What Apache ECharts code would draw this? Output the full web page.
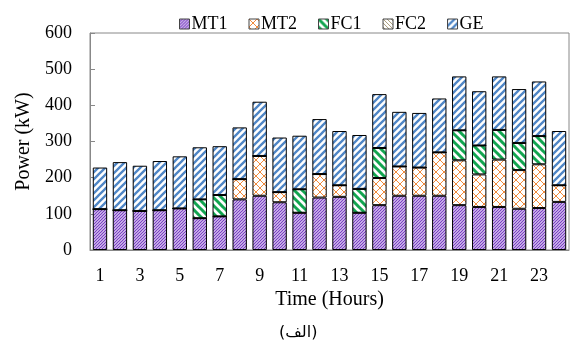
<!DOCTYPE html>
<html>
<head>
<meta charset="utf-8">
<script src="https://cdn.jsdelivr.net/npm/echarts@6/dist/echarts.min.js"></script>
<style>
  html, body { margin: 0; padding: 0; background: #fff; }
  #chart { width: 570px; height: 342px; }
</style>
</head>
<body>
<div id="chart"></div>
<script>
// hours 1..24
var hours = [];
for (var h = 1; h <= 24; h++) hours.push(String(h));

var seriesNames = ['MT1', 'MT2', 'FC1', 'FC2', 'GE'];
var mt1 = [113, 110, 108, 110, 115, 88, 93, 140, 150, 132, 103, 145, 147, 103, 124, 150, 150, 150, 124, 119, 119, 114, 116, 133];
var mt2 = [0, 0, 0, 0, 0, 0, 0, 56, 110, 28, 0, 65, 32, 0, 75, 81, 78, 120, 124, 90, 131, 107, 121, 46];
var fc1 = [0, 0, 0, 0, 0, 52, 59, 0, 0, 0, 65, 0, 0, 66, 83, 0, 0, 0, 83, 80, 82, 75, 78, 0];
var fc2 = [0, 0, 0, 0, 0, 0, 0, 0, 0, 0, 0, 0, 0, 0, 0, 0, 0, 0, 0, 0, 0, 0, 0, 0];
var ge = [115, 133, 125, 136, 144, 144, 135, 143, 150, 151, 148, 152, 150, 149, 149, 151, 151, 149, 149, 150, 148, 149, 151, 150];
var yTicks = [0, 100, 200, 300, 400, 500, 600];

// hatch tiles
function stripes(color, size, width, dir) {
  var c = document.createElement('canvas');
  c.width = size; c.height = size;
  var g = c.getContext('2d');
  g.fillStyle = '#fff';
  g.fillRect(0, 0, size, size);
  g.strokeStyle = color;
  g.lineWidth = width;
  g.beginPath();
  var offs = [-size, 0, size];
  for (var i = 0; i < offs.length; i++) {
    var o = offs[i];
    if (dir > 0) { // "/"
      g.moveTo(o - 1, size + 1); g.lineTo(o + size + 1, -1);
    } else { // "\"
      g.moveTo(o - 1, -1); g.lineTo(o + size + 1, size + 1);
    }
  }
  g.stroke();
  return c;
}
function cross(color, size, width) {
  var c = document.createElement('canvas');
  c.width = size; c.height = size;
  var g = c.getContext('2d');
  g.fillStyle = '#fff';
  g.fillRect(0, 0, size, size);
  g.strokeStyle = color;
  g.lineWidth = width;
  g.beginPath();
  g.moveTo(0, size); g.lineTo(size, 0);
  g.moveTo(0, 0); g.lineTo(size, size);
  g.stroke();
  return c;
}

var fills = {
  MT1: { image: stripes('#7a3fc4', 3, 1.3, 1), repeat: 'repeat' },
  MT2: { image: cross('#f08a3c', 8, 1), repeat: 'repeat' },
  FC1: { image: stripes('#12a550', 8, 3, -1), repeat: 'repeat' },
  FC2: { image: stripes('#a89a78', 4, 1, -1), repeat: 'repeat' },
  GE: { image: stripes('#4f86c6', 7, 2.3, 1), repeat: 'repeat' }
};
var dataMap = { MT1: mt1, MT2: mt2, FC1: fc1, FC2: fc2, GE: ge };

var chart = echarts.init(document.getElementById('chart'));
var font = 'Liberation Serif';

chart.setOption({
  animation: false,
  textStyle: { fontFamily: font },
  title: {
    text: '(الف)',
    left: 274,
    top: 320,
    textStyle: { fontFamily: 'DejaVu Sans', fontSize: 16, fontWeight: 'normal', color: '#000' }
  },
  legend: {
    data: seriesNames,
    icon: 'rect',
    top: 10,
    left: 174,
    itemWidth: 10,
    itemHeight: 10,
    itemGap: 21,
    itemStyle: { borderColor: '#444', borderWidth: 1 },
    textStyle: { fontFamily: font, fontSize: 18, color: '#000', padding: [0, 0, 0, -3] }
  },
  grid: {
    left: 90,
    right: 1,
    top: 33,
    bottom: 92,
    show: true,
    borderColor: '#888',
    borderWidth: 1
  },
  xAxis: {
    type: 'category',
    data: hours,
    name: 'Time (Hours)',
    nameLocation: 'middle',
    nameGap: 40,
    nameTextStyle: { fontFamily: font, fontSize: 20, color: '#000' },
    axisLine: { lineStyle: { color: '#888' } },
    axisTick: { show: false },
    axisLabel: { interval: 1, fontSize: 18, color: '#000', margin: 17 }
  },
  yAxis: {
    type: 'value',
    min: 0,
    max: 600,
    interval: 100,
    name: 'Power (kW)',
    nameLocation: 'middle',
    nameGap: 52,
    nameTextStyle: { fontFamily: font, fontSize: 20, color: '#000' },
    axisLine: { show: true, lineStyle: { color: '#888' } },
    axisTick: { show: true, inside: true, length: 5, lineStyle: { color: '#888' } },
    splitLine: { show: false },
    axisLabel: { fontSize: 18, color: '#000', margin: 18,
      formatter: function (v) { return yTicks.indexOf(v) >= 0 ? String(v) : ''; } }
  },
  series: seriesNames.map(function (n) {
    return {
      name: n,
      type: 'bar',
      stack: 'p',
      barWidth: '72%',
      data: dataMap[n],
      itemStyle: { color: fills[n], borderColor: '#000', borderWidth: 1 }
    };
  })
});
</script>
</body>
</html>
